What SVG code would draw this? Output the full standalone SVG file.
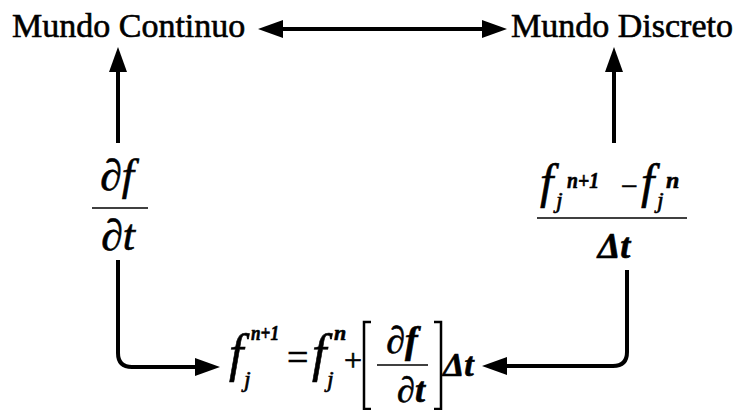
<svg xmlns="http://www.w3.org/2000/svg" width="736" height="410" viewBox="0 0 736 410">
<style>
  .t { font-family: "Liberation Serif", "Times New Roman", serif; fill: #000; stroke: #000; stroke-width: 0.6; }
  .lbl { font-size: 34px; }
  .m { font-style: italic; }
  .b { font-weight: bold; }
  .conn { fill: none; stroke: #000; stroke-width: 4; stroke-linejoin: round; }
  .rule { stroke: #000; stroke-width: 1.5; fill: none; }
  .br { stroke: #000; stroke-width: 2.5; fill: none; }
</style>
<defs>
  <marker id="ah" viewBox="0 0 25 18" refX="7" refY="9" markerWidth="25" markerHeight="18" markerUnits="userSpaceOnUse" orient="auto-start-reverse">
    <path d="M0,0 L25,9 L0,18 z" fill="#000"/>
  </marker>
</defs>
<rect width="736" height="410" fill="#fff"/>

<g id="connectors">
  <path class="conn" d="M276,29 H489" marker-start="url(#ah)" marker-end="url(#ah)"/>
  <path class="conn" d="M118,143 V65" marker-end="url(#ah)"/>
  <path class="conn" d="M614,143 V65" marker-end="url(#ah)"/>
  <path class="conn" d="M118,260 V353 Q118,367 132,367 H202" marker-end="url(#ah)"/>
  <path class="conn" d="M627,270 V352 Q627,366 613,366 H500" marker-end="url(#ah)"/>
</g>

<g id="mundo-continuo">
  <text class="t lbl" x="12" y="37">Mundo Continuo</text>
</g>

<g id="mundo-discreto">
  <text class="t lbl" x="511" y="37">Mundo Discreto</text>
</g>

<g id="derivada">
  <text class="t m" font-size="44" x="117" y="190" text-anchor="middle">∂f</text>
  <line class="rule" x1="92" y1="208" x2="148" y2="208"/>
  <text class="t m" font-size="44" x="118" y="250" text-anchor="middle">∂t</text>
</g>

<g id="diferencia">
  <text class="t m" font-size="48" x="540" y="198">f</text>
  <text class="t m b" font-size="24" x="567" y="188" textLength="32" lengthAdjust="spacingAndGlyphs">n+1</text>
  <text class="t m" font-size="24" x="556" y="208">j</text>
  <text class="t" font-size="30" x="621" y="196">−</text>
  <text class="t m" font-size="48" x="641" y="198">f</text>
  <text class="t m b" font-size="24" x="666" y="188">n</text>
  <text class="t m" font-size="24" x="657" y="208">j</text>
  <line class="rule" x1="537" y1="218" x2="687" y2="218"/>
  <text class="t m b" font-size="36" x="614" y="258" text-anchor="middle">Δt</text>
</g>

<g id="euler">
  <text class="t m" font-size="52" x="229" y="371">f</text>
  <text class="t m b" font-size="22" x="251" y="340" textLength="28" lengthAdjust="spacingAndGlyphs">n+1</text>
  <text class="t m" font-size="24" x="244" y="387">j</text>
  <text class="t" font-size="38" x="287" y="370">=</text>
  <text class="t m" font-size="52" x="312" y="371">f</text>
  <text class="t m b" font-size="22" x="334" y="340">n</text>
  <text class="t m" font-size="24" x="327" y="387">j</text>
  <text class="t" font-size="32" x="344" y="371">+</text>
  <path class="br" d="M371,322 H364 V409 H371"/>
  <text class="t m b" font-size="38" x="402" y="353" text-anchor="middle">∂f</text>
  <line class="rule" x1="377" y1="365" x2="428" y2="365"/>
  <text class="t m b" font-size="36" x="411" y="402" text-anchor="middle">∂t</text>
  <path class="br" d="M434,322 H441 V409 H434"/>
  <text class="t m b" font-size="34" x="443" y="376">Δt</text>
</g>
</svg>
